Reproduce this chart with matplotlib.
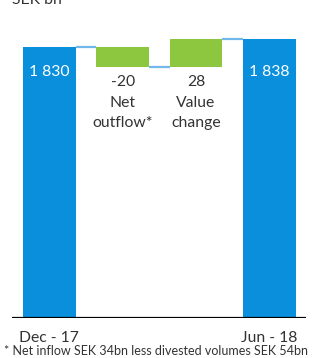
import matplotlib.pyplot as plt

# waterfall data (SEK bn)
steps = ["Dec - 17", "Net\noutflow*", "Value\nchange", "Jun - 18"]
start_value = 1830
changes = [-20, 28]
end_value = 1838
value_labels = ["1 830", "-20", "28", "1 838"]

blue = "#0a8fdc"
green = "#8dc63f"
connector = "#72b8ea"
text_col = "#333333"
fs = 11.3

W, H = 312, 358
fig = plt.figure(figsize=(W / 100, H / 100), dpi=100)
# axes spans from baseline (y=318 px from top) to top of figure
ax = fig.add_axes([12 / W, 40 / H, 294 / W, 318 / H])
y_min = 1559
ax.set_ylim(y_min, y_min + 318)
ax.set_xlim(-0.51, 3.5)

width = 0.72
xs = list(range(len(steps)))

# totals
ax.bar(xs[0], start_value - y_min, bottom=y_min, width=width, color=blue, zorder=2)
ax.bar(xs[3], end_value - y_min, bottom=y_min, width=width, color=blue, zorder=2)

# floating changes
level = start_value
levels = [start_value]
for i, c in enumerate(changes):
    lo, hi = sorted([level, level + c])
    ax.bar(xs[i + 1], hi - lo, bottom=lo, width=width, color=green, zorder=2)
    level += c
    levels.append(level)

# connectors
for i in range(3):
    ax.plot([xs[i] + width / 2, xs[i + 1] - width / 2], [levels[i], levels[i]],
            color=connector, lw=1.6, zorder=1, solid_capstyle="butt")

# total labels inside bars
ax.text(xs[0], start_value - 25, value_labels[0], color="white", ha="center",
        va="center", fontsize=fs, family="Lato")
ax.text(xs[3], end_value - 33, value_labels[3], color="white", ha="center",
        va="center", fontsize=fs, family="Lato")

# change labels below the green bars
for i in (1, 2):
    bottom = min(levels[i - 1], levels[i])
    ax.text(xs[i], bottom - 8, value_labels[i] + "\n" + steps[i], color=text_col,
            ha="center", va="top", fontsize=fs, family="Lato", linespacing=1.6)

# baseline
ax.axhline(y_min, color="black", lw=1.6, zorder=3)

for s in ax.spines.values():
    s.set_visible(False)
ax.set_yticks([])
ax.set_xticks([xs[0], xs[3]])
ax.set_xticklabels([steps[0], steps[3]], fontsize=fs, family="Lato", color=text_col)
ax.tick_params(axis="x", length=0, pad=9)

fig.text(12 / W, 1 - 4 / H, "SEK bn", fontsize=fs, family="Lato", color=text_col,
         va="baseline", ha="left")
fig.text(W / 2 / W, 7 / H, "* Net inflow SEK 34bn less divested volumes SEK 54bn",
         fontsize=9.0, family="Lato", color=text_col, ha="center", va="center")

fig.savefig("out.png", dpi=100)
